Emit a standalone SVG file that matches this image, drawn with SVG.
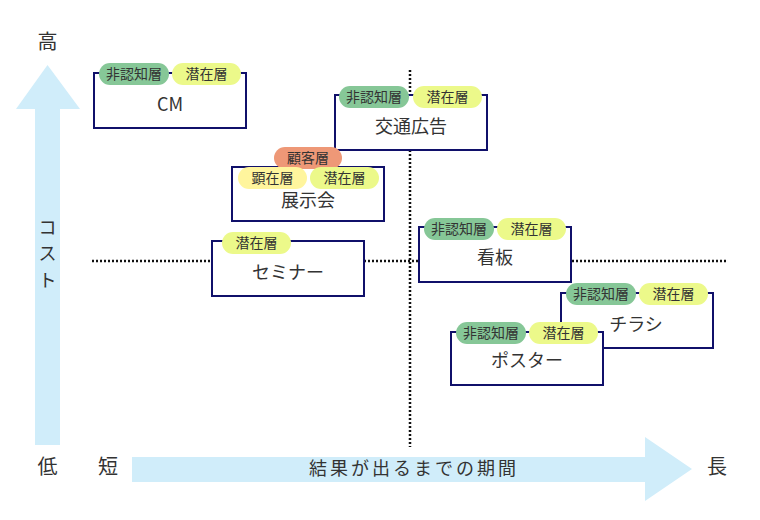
<svg xmlns="http://www.w3.org/2000/svg" width="760" height="520" viewBox="0 0 760 520">
<style>
text{font-family:"Noto Sans CJK JP","Noto Sans",sans-serif;fill:#333;}
.ax{font-size:20px;text-anchor:middle;}
.lbl{font-size:18px;text-anchor:middle;}
.pt{font-size:14px;text-anchor:middle;}
.box{fill:#fff;stroke:#10106a;stroke-width:2;}
.dot{stroke:#111;stroke-width:2.5;stroke-dasharray:2 2;fill:none;}
.g{fill:#86c797;}
.y{fill:#ecf98a;}
.ly{fill:#fff59d;}
.o{fill:#ee9877;}
.arr{fill:#d0edfa;}
</style>
<g id="axes">
<polygon class="arr" points="35,445 35,109 16,109 47.5,65 80,109 60,109 60,445"/>
<polygon class="arr" points="132,457 645,457 645,437 692,469 645,501 645,482 132,482"/>
<text class="ax" x="47.5" y="49">高</text>
<text class="ax" x="47.5" y="474">低</text>
<text class="ax" x="108" y="474">短</text>
<text class="ax" x="717" y="474">長</text>
<text style="font-size:18px;text-anchor:middle" x="47.5" y="234">コ</text>
<text style="font-size:18px;text-anchor:middle" x="47.5" y="260">ス</text>
<text style="font-size:18px;text-anchor:middle" x="47.5" y="287">ト</text>
<text style="font-size:18px;text-anchor:middle;letter-spacing:3px" x="414" y="475">結果が出るまでの期間</text>
</g>
<g id="connectors">
<line class="dot" x1="92" y1="261" x2="728" y2="261"/>
<line class="dot" x1="410" y1="70" x2="410" y2="447"/>
</g>
<g id="cm">
<rect class="box" x="94" y="73" width="152" height="55"/>
<rect class="g" x="99" y="63" width="70" height="22" rx="11"/>
<rect class="y" x="172" y="63" width="69" height="22" rx="11"/>
<text class="pt" x="134" y="79">非認知層</text>
<text class="pt" x="206.5" y="79">潜在層</text>
<text class="lbl" x="170" y="111">CM</text>
</g>
<g id="koutsu">
<rect class="box" x="335" y="95" width="152" height="55"/>
<rect class="g" x="339" y="86" width="70" height="22" rx="11"/>
<rect class="y" x="413" y="86" width="69" height="22" rx="11"/>
<text class="pt" x="374" y="102">非認知層</text>
<text class="pt" x="447.5" y="102">潜在層</text>
<text class="lbl" x="411" y="133">交通広告</text>
</g>
<g id="tenjikai">
<rect class="box" x="232" y="167" width="152" height="54"/>
<rect class="o" x="274" y="147" width="68" height="22" rx="11"/>
<rect class="ly" x="238" y="167" width="69" height="22" rx="11"/>
<rect class="y" x="310" y="167" width="69" height="22" rx="11"/>
<text class="pt" x="308" y="163">顧客層</text>
<text class="pt" x="272.5" y="183">顕在層</text>
<text class="pt" x="344.5" y="183">潜在層</text>
<text class="lbl" x="308" y="207">展示会</text>
</g>
<g id="seminar">
<rect class="box" x="212" y="241" width="152" height="55"/>
<rect class="y" x="222" y="232" width="69" height="22" rx="11"/>
<text class="pt" x="256.5" y="248">潜在層</text>
<text class="lbl" x="288" y="279">セミナー</text>
</g>
<g id="kanban">
<rect class="box" x="419" y="227" width="152" height="55"/>
<rect class="g" x="424" y="218" width="70" height="22" rx="11"/>
<rect class="y" x="497" y="218" width="69" height="22" rx="11"/>
<text class="pt" x="459" y="234">非認知層</text>
<text class="pt" x="531.5" y="234">潜在層</text>
<text class="lbl" x="495" y="264">看板</text>
</g>
<g id="chirashi">
<rect class="box" x="561" y="293" width="152" height="55"/>
<rect class="g" x="566" y="283" width="70" height="22" rx="11"/>
<rect class="y" x="639" y="283" width="69" height="22" rx="11"/>
<text class="pt" x="601" y="299">非認知層</text>
<text class="pt" x="673.5" y="299">潜在層</text>
<text class="lbl" x="636" y="331">チラシ</text>
</g>
<g id="poster">
<rect class="box" x="451" y="332" width="152" height="53"/>
<rect class="g" x="456" y="322" width="70" height="22" rx="11"/>
<rect class="y" x="529" y="322" width="69" height="22" rx="11"/>
<text class="pt" x="491" y="338">非認知層</text>
<text class="pt" x="563.5" y="338">潜在層</text>
<text class="lbl" x="527" y="367">ポスター</text>
</g>
</svg>
